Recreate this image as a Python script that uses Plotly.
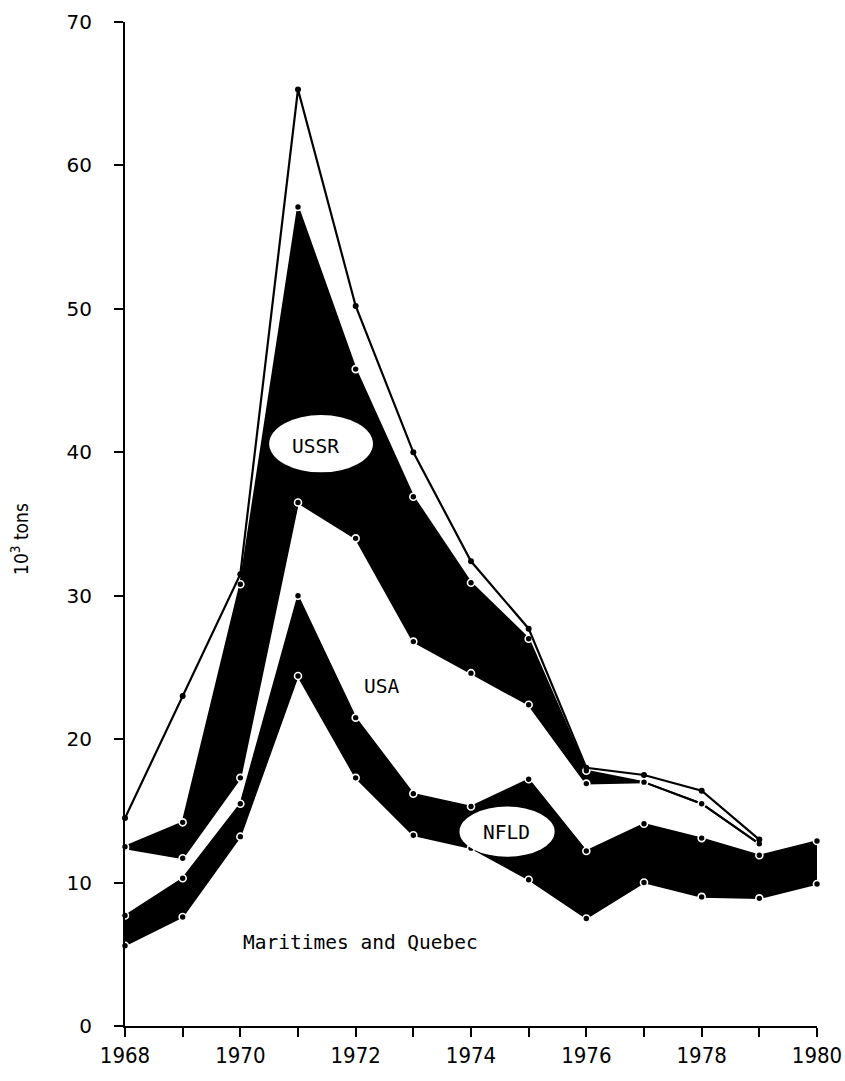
import numpy as np
import plotly.graph_objects as go

# ---- data (10^3 tons) ----
years = [1968, 1969, 1970, 1971, 1972, 1973, 1974, 1975, 1976, 1977, 1978, 1979, 1980]
maritimes_quebec = [5.6, 7.6, 13.2, 24.4, 17.3, 13.3, 12.4, 10.2, 7.5, 10.0, 9.0, 8.9, 9.9]
nfld = [2.1, 2.7, 2.3, 5.6, 4.2, 2.9, 2.9, 7.0, 4.7, 4.1, 4.1, 3.0, 3.0]
usa = [4.7, 1.4, 1.8, 6.5, 12.5, 10.6, 9.3, 5.2, 4.7, 2.9, 2.4, 0.8, None]
ussr = [0.1, 2.5, 13.5, 20.6, 11.8, 10.1, 6.3, 4.6, 0.9, 0.0, 0.0, 0.0, None]
others = [2.0, 8.8, 0.7, 8.2, 4.4, 3.1, 1.5, 0.7, 0.2, 0.5, 0.9, 0.3, None]

x_tick_vals = [1968, 1970, 1972, 1974, 1976, 1978, 1980]
x_tick_text = ["1968", "1970", "1972", "1974", "1976", "1978", "1980"]
y_tick_vals = [0, 10, 20, 30, 40, 50, 60, 70]
y_tick_text = ["0", "10", "20", "30", "40", "50", "60", "70"]


def arr(v):
    return np.array([np.nan if a is None else a for a in v], dtype=float)


lvl_m = arr(maritimes_quebec)
lvl_n = lvl_m + arr(nfld)
lvl_u = lvl_n + arr(usa)
lvl_r = lvl_u + arr(ussr)
lvl_t = lvl_r + arr(others)


def clean(a):
    return [None if np.isnan(v) else round(float(v), 2) for v in a]


ring = dict(symbol="circle", size=7, color="black", line=dict(color="white", width=1.6))
dot = dict(symbol="circle", size=6, color="black")

fig = go.Figure()
fig.add_trace(go.Scatter(x=years, y=clean(lvl_m), mode="lines+markers",
                         line=dict(color="black", width=1.5), marker=ring, cliponaxis=False))
fig.add_trace(go.Scatter(x=years, y=clean(lvl_n), mode="lines+markers", fill="tonexty",
                         fillcolor="black", line=dict(color="black", width=1.5), marker=ring,
                         cliponaxis=False))
fig.add_trace(go.Scatter(x=years, y=clean(lvl_u), mode="lines+markers",
                         line=dict(color="black", width=2), marker=ring, cliponaxis=False))
fig.add_trace(go.Scatter(x=years, y=clean(lvl_r), mode="lines+markers", fill="tonexty",
                         fillcolor="black", line=dict(color="black", width=2), marker=ring,
                         cliponaxis=False))
fig.add_trace(go.Scatter(x=years, y=clean(lvl_t), mode="lines+markers",
                         line=dict(color="black", width=2.2), marker=dot, cliponaxis=False))

# white blobs behind the labels placed inside the black bands
fig.add_shape(type="circle", x0=1970.5, x1=1972.3, y0=38.6, y1=42.6,
              fillcolor="white", line=dict(color="white", width=0), layer="above")
fig.add_shape(type="circle", x0=1973.8, x1=1975.45, y0=11.8, y1=15.3,
              fillcolor="white", line=dict(color="white", width=0), layer="above")

label_font = dict(family="DejaVu Sans Mono, Liberation Mono, monospace", size=19.5, color="black")
fig.add_annotation(x=1971.31, y=40.4, text="USSR", showarrow=False, font=label_font)
fig.add_annotation(x=1972.45, y=23.66, text="USA", showarrow=False, font=label_font)
fig.add_annotation(x=1974.61, y=13.46, text="NFLD", showarrow=False, font=label_font)
fig.add_annotation(x=1972.09, y=5.8, text="Maritimes and Quebec", showarrow=False, font=label_font)

fig.add_annotation(xref="paper", yref="paper", x=-0.152, y=0.485, xanchor="center", yanchor="middle",
                   text="10<sup>3</sup> tons", textangle=-90, showarrow=False,
                   font=dict(family="DejaVu Sans Condensed, DejaVu Sans, sans-serif", size=19, color="black"))

fig.update_layout(
    width=845, height=1081,
    margin=dict(l=125, r=28, t=22, b=55),
    paper_bgcolor="white", plot_bgcolor="white",
    showlegend=False,
    xaxis=dict(range=[1968, 1980], tickmode="array", tickvals=x_tick_vals, ticktext=x_tick_text,
               automargin=False,
               showgrid=False, zeroline=False, showline=True, linecolor="black", linewidth=2,
               ticks="outside", ticklen=9, tickwidth=2, tickcolor="black",
               minor=dict(ticks="outside", ticklen=9, tickwidth=2, tickcolor="black",
                          dtick=1, tick0=1968, showgrid=False),
               tickfont=dict(family="DejaVu Sans Condensed, DejaVu Sans, sans-serif", size=22, color="black")),
    yaxis=dict(range=[0, 70], tickmode="array", tickvals=y_tick_vals, ticktext=y_tick_text,
               automargin=False,
               showgrid=False, zeroline=False, showline=True, linecolor="black", linewidth=2,
               ticks="outside", ticklen=9, tickwidth=2, tickcolor="black", ticklabelstandoff=18,
               tickfont=dict(family="DejaVu Sans, sans-serif", size=20, color="black")),
)

fig.write_html("out.html")
